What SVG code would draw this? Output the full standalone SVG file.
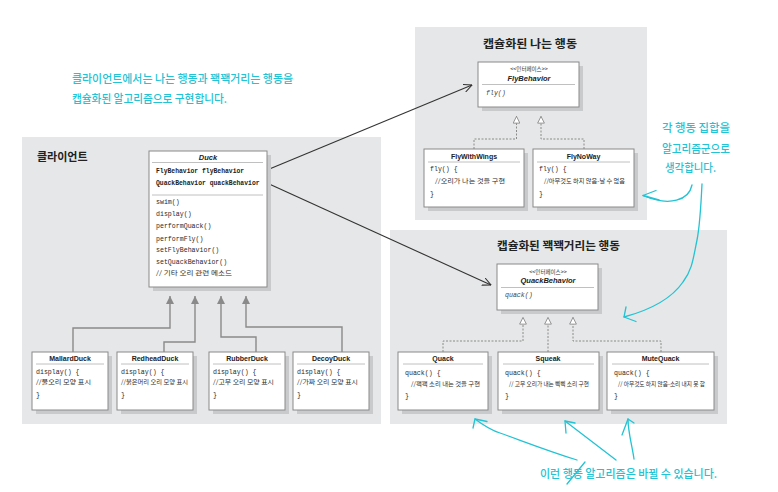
<svg xmlns="http://www.w3.org/2000/svg" width="778" height="492" viewBox="0 0 778 492">
<defs>
<style>
.panel{fill:#e6e7e8}
.box{fill:#fff;stroke:#8a8a8a;stroke-width:1}
.sh{fill:#c9cacc}
.sep{stroke:#b0b0b0;stroke-width:0.8}
.ttl{font-family:"Liberation Sans","Noto Sans CJK KR",sans-serif;font-weight:bold;font-size:7px;fill:#222;text-anchor:middle}
.ttli{font-family:"Liberation Sans",sans-serif;font-weight:bold;font-style:italic;font-size:7.5px;fill:#222;text-anchor:middle}
.code{font-family:"Liberation Mono","Noto Sans CJK KR",monospace;font-size:6.6px;fill:#2a2a2a}
.codeb{font-family:"Liberation Mono",monospace;font-size:6.4px;font-weight:bold;fill:#222}
.codei{font-family:"Liberation Mono",monospace;font-size:6.6px;font-style:italic;fill:#444}
.kr{font-family:"Noto Sans CJK KR",sans-serif;font-size:6px;fill:#2a2a2a}
.iface{font-family:"Noto Sans CJK KR",sans-serif;font-size:5.5px;fill:#333;text-anchor:middle}
.ptitle{font-family:"Noto Sans CJK KR",sans-serif;font-weight:bold;font-size:11px;fill:#222}
.note{font-family:"Noto Sans CJK KR",sans-serif;font-weight:500;font-size:11px;fill:#22c3d4}
.cy{fill:none;stroke:#22c3d4;stroke-width:1.3;stroke-linecap:round;stroke-linejoin:round}
.inh{fill:none;stroke:#8a8a8a;stroke-width:1.4}
.dash{fill:none;stroke:#8a8a8a;stroke-width:1;stroke-dasharray:2 1.5}
.assoc{fill:none;stroke:#333;stroke-width:1.1}
</style>
<marker id="filled" viewBox="0 0 10 10" refX="10" refY="5" markerWidth="8" markerHeight="8" markerUnits="userSpaceOnUse" orient="auto">
<path d="M0,0 L10,5 L0,10 z" fill="#8a8a8a"/>
</marker>
<marker id="hollow" viewBox="0 0 10 10" refX="10" refY="5" markerWidth="7.5" markerHeight="7.5" markerUnits="userSpaceOnUse" orient="auto">
<path d="M0.5,0.5 L9.5,5 L0.5,9.5 z" fill="#fff" stroke="#8a8a8a" stroke-width="1.2"/>
</marker>
<marker id="open" viewBox="0 0 10 10" refX="9.5" refY="5" markerWidth="9" markerHeight="9" markerUnits="userSpaceOnUse" orient="auto">
<path d="M0,0.5 L9.5,5 L0,9.5" fill="none" stroke="#333" stroke-width="1.2"/>
</marker>
</defs>
<rect width="778" height="492" fill="#fff"/>

<g id="panels">
<rect class="panel" x="22" y="137" width="359" height="287"/>
<rect class="panel" x="415" y="27" width="232" height="193"/>
<rect class="panel" x="390" y="230" width="337" height="194"/>
<text class="ptitle" x="37" y="161">클라이언트</text>
<text class="ptitle" x="483" y="48" textLength="94" lengthAdjust="spacingAndGlyphs">캡슐화된 나는 행동</text>
<text class="ptitle" x="497" y="249.5" textLength="123" lengthAdjust="spacingAndGlyphs">캡슐화된 꽥꽥거리는 행동</text>
</g>

<g id="connectors">
<path class="inh" d="M73,352 V328 H170 V296" marker-end="url(#filled)"/>
<path class="inh" d="M164,352 V342 H195 V296" marker-end="url(#filled)"/>
<path class="inh" d="M256,352 V337 H221 V296" marker-end="url(#filled)"/>
<path class="inh" d="M342,352 V327 H246 V296" marker-end="url(#filled)"/>
<path class="dash" d="M474,149 V139 H516.5 V116" marker-end="url(#hollow)"/>
<path class="dash" d="M584,149 V139 H541 V116" marker-end="url(#hollow)"/>
<path class="dash" d="M443,352 V341 H523 V317" marker-end="url(#hollow)"/>
<path class="dash" d="M548,352 V317" marker-end="url(#hollow)"/>
<path class="dash" d="M661,352 V341 H573 V317" marker-end="url(#hollow)"/>
<path class="assoc" d="M267,170 L472,85" marker-end="url(#open)"/>
<path class="assoc" d="M267,183 L491,285" marker-end="url(#open)"/>
</g>

<g id="Duck">
<rect class="sh" x="153" y="155" width="118" height="136"/>
<rect class="box" x="149" y="151" width="118" height="136"/>
<text class="ttli" x="208" y="160" font-size="8">Duck</text>
<line class="sep" x1="152" y1="162.5" x2="263" y2="162.5"/>
<text class="codeb" x="156" y="172.5">FlyBehavior flyBehavior</text>
<text class="codeb" x="156" y="184.5">QuackBehavior quackBehavior</text>
<line class="sep" x1="152" y1="195" x2="263" y2="195"/>
<text class="code" x="156" y="204">swim()</text>
<text class="code" x="156" y="216">display()</text>
<text class="code" x="156" y="228">performQuack()</text>
<text class="code" x="156" y="240.5">performFly()</text>
<text class="code" x="156" y="252">setFlyBehavior()</text>
<text class="code" x="156" y="264">setQuackBehavior()</text>
<text class="kr" x="156" y="275" textLength="76" lengthAdjust="spacingAndGlyphs">// 기타 오리 관련 메소드</text>
</g>

<g id="MallardDuck">
<rect class="sh" x="36" y="356" width="76" height="58"/>
<rect class="box" x="32" y="352" width="76" height="58"/>
<text class="ttl" x="70" y="360.5">MallardDuck</text>
<line class="sep" x1="36" y1="364" x2="104" y2="364"/>
<text class="code" x="36" y="373.5">display() {</text>
<text class="kr" x="36" y="384" textLength="55" lengthAdjust="spacingAndGlyphs">//물오리 모양 표시</text>
<text class="code" x="36" y="396.5">}</text>
</g>
<g id="RedheadDuck">
<rect class="sh" x="121" y="356" width="76" height="58"/>
<rect class="box" x="117" y="352" width="76" height="58"/>
<text class="ttl" x="155" y="360.5">RedheadDuck</text>
<line class="sep" x1="121" y1="364" x2="189" y2="364"/>
<text class="code" x="121" y="373.5">display() {</text>
<text class="kr" x="121" y="384" textLength="67" lengthAdjust="spacingAndGlyphs">//붉은머리 오리 모양 표시</text>
<text class="code" x="121" y="396.5">}</text>
</g>
<g id="RubberDuck">
<rect class="sh" x="213" y="356" width="76" height="58"/>
<rect class="box" x="209" y="352" width="76" height="58"/>
<text class="ttl" x="247" y="360.5">RubberDuck</text>
<line class="sep" x1="213" y1="364" x2="281" y2="364"/>
<text class="code" x="213" y="373.5">display() {</text>
<text class="kr" x="213" y="384" textLength="61" lengthAdjust="spacingAndGlyphs">//고무 오리 모양 표시</text>
<text class="code" x="213" y="396.5">}</text>
</g>
<g id="DecoyDuck">
<rect class="sh" x="297" y="356" width="76" height="58"/>
<rect class="box" x="293" y="352" width="76" height="58"/>
<text class="ttl" x="331" y="360.5">DecoyDuck</text>
<line class="sep" x1="297" y1="364" x2="365" y2="364"/>
<text class="code" x="297" y="373.5">display() {</text>
<text class="kr" x="297" y="384" textLength="61" lengthAdjust="spacingAndGlyphs">//가짜 오리 모양 표시</text>
<text class="code" x="297" y="396.5">}</text>
</g>

<g id="FlyBehavior">
<rect class="sh" x="482" y="66" width="101" height="45"/>
<rect class="box" x="478" y="62" width="101" height="45"/>
<text class="iface" x="529" y="70.5">&lt;&lt;인터페이스&gt;&gt;</text>
<text class="ttli" x="529" y="80.5">FlyBehavior</text>
<line class="sep" x1="482" y1="84.5" x2="575" y2="84.5"/>
<text class="codei" x="486" y="94.5">fly()</text>
</g>
<g id="FlyWithWings">
<rect class="sh" x="428" y="153" width="100" height="58"/>
<rect class="box" x="424" y="149" width="100" height="58"/>
<text class="ttl" x="474" y="159">FlyWithWings</text>
<line class="sep" x1="428" y1="162" x2="520" y2="162"/>
<text class="code" x="430" y="170.5">fly() {</text>
<text class="kr" x="435" y="183" textLength="70" lengthAdjust="spacingAndGlyphs">//오리가 나는 것을 구현</text>
<text class="code" x="430" y="195.5">}</text>
</g>
<g id="FlyNoWay">
<rect class="sh" x="537" y="153" width="101" height="58"/>
<rect class="box" x="533" y="149" width="101" height="58"/>
<text class="ttl" x="583.5" y="159">FlyNoWay</text>
<line class="sep" x1="537" y1="162" x2="630" y2="162"/>
<text class="code" x="539" y="170.5">fly() {</text>
<text class="kr" x="544" y="183" textLength="81" lengthAdjust="spacingAndGlyphs">//아무것도 하지 않음-날 수 없음</text>
<text class="code" x="539" y="195.5">}</text>
</g>

<g id="QuackBehavior">
<rect class="sh" x="501" y="268" width="101" height="46"/>
<rect class="box" x="497" y="264" width="101" height="46"/>
<text class="iface" x="548" y="273.5">&lt;&lt;인터페이스&gt;&gt;</text>
<text class="ttli" x="548" y="283">QuackBehavior</text>
<line class="sep" x1="501" y1="287.5" x2="594" y2="287.5"/>
<text class="codei" x="505" y="297">quack()</text>
</g>
<g id="Quack">
<rect class="sh" x="402" y="356" width="90" height="58"/>
<rect class="box" x="398" y="352" width="90" height="58"/>
<text class="ttl" x="443" y="360.5">Quack</text>
<line class="sep" x1="403" y1="364" x2="483" y2="364"/>
<text class="code" x="405" y="374.5">quack() {</text>
<text class="kr" x="411" y="385.5" textLength="69" lengthAdjust="spacingAndGlyphs">//꽥꽥 소리 내는 것을 구현</text>
<text class="code" x="405" y="397.5">}</text>
</g>
<g id="Squeak">
<rect class="sh" x="502" y="356" width="101" height="58"/>
<rect class="box" x="498" y="352" width="101" height="58"/>
<text class="ttl" x="548" y="360.5">Squeak</text>
<line class="sep" x1="503" y1="364" x2="594" y2="364"/>
<text class="code" x="505" y="374.5">quack() {</text>
<text class="kr" x="509" y="385.5" textLength="80" lengthAdjust="spacingAndGlyphs">// 고무 오리가 내는 삑삑 소리 구현</text>
<text class="code" x="505" y="397.5">}</text>
</g>
<g id="MuteQuack">
<rect class="sh" x="611" y="356" width="107" height="58"/>
<rect class="box" x="607" y="352" width="107" height="58"/>
<text class="ttl" x="660.5" y="360.5">MuteQuack</text>
<line class="sep" x1="612" y1="364" x2="709" y2="364"/>
<text class="code" x="614" y="374.5">quack() {</text>
<text class="kr" x="618" y="385.5" textLength="87" lengthAdjust="spacingAndGlyphs">// 아무것도 하지 않음-소리 내지 못 함</text>
<text class="code" x="614" y="397.5">}</text>
</g>

<g id="notes">
<text class="note" x="72" y="83" textLength="221" lengthAdjust="spacingAndGlyphs">클라이언트에서는 나는 행동과 꽥꽥거리는 행동을</text>
<text class="note" x="72" y="102.5" textLength="155" lengthAdjust="spacingAndGlyphs">캡슐화된 알고리즘으로 구현합니다.</text>
<text class="note" x="662" y="132" textLength="68" lengthAdjust="spacingAndGlyphs">각 행동 집합을</text>
<text class="note" x="662" y="152.5" textLength="68" lengthAdjust="spacingAndGlyphs">알고리즘군으로</text>
<text class="note" x="665" y="172" textLength="51" lengthAdjust="spacingAndGlyphs">생각합니다.</text>
<text class="note" x="540" y="478" textLength="177" lengthAdjust="spacingAndGlyphs">이런 행동 알고리즘은 바뀔 수 있습니다.</text>
<path class="cy" d="M567,484 L585,462"/>
<path class="cy" d="M692,185 C689,200 670,207 643,195.5"/>
<path class="cy" d="M656,190.5 L643,195.5 L659,200"/>
<path class="cy" d="M702,184 C701,205 700,225 697,240 C693,260 692,270 683,282 C672,298 650,310 624,317"/>
<path class="cy" d="M626,307 L624,317 L636,321.5"/>
<path class="cy" d="M577,460 C545,450 520,440 500,433 C490,430 483,425 475,419"/>
<path class="cy" d="M473,428 L475,419 L487,421.5"/>
<path class="cy" d="M616,460 L565,421"/>
<path class="cy" d="M566,433 L565,421 L575,423"/>
<path class="cy" d="M634,459 C632,445 628,432 628,419"/>
<path class="cy" d="M622,435 L628,419 L634,423"/>
</g>
</svg>
